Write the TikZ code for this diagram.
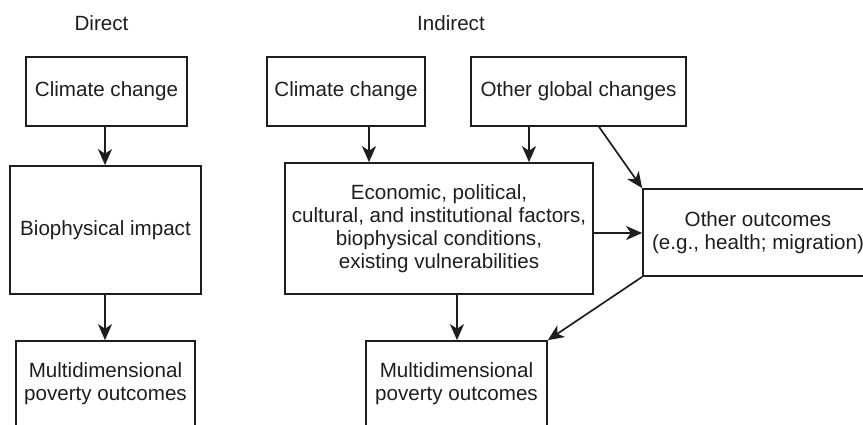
\documentclass[tikz,border=0pt]{standalone}
\usepackage{fontspec}
\setmainfont{Liberation Sans}
\usetikzlibrary{arrows.meta,calc}
\definecolor{ink}{HTML}{1E1E1E}
\begin{document}
\begin{tikzpicture}[x=1pt,y=-1pt,
  txt/.style={font=\fontsize{20.6}{23.2}\selectfont, text=ink},
  box/.style={txt, draw=ink, line width=1.7pt, rectangle, align=center, inner sep=0pt},
  arr/.style={draw=ink, line width=1.7pt, -{Stealth[length=16pt,width=14pt,inset=4.5pt]}}]
\useasboundingbox (0,0) rectangle (863,425);
\clip (0,0) rectangle (863,425);

% column headings
\node[txt] (hdirect) at (101.5,23) {Direct};
\node[txt] (hindirect) at (451,23) {Indirect};

% direct pathway
\node[box, minimum width=161pt, minimum height=69pt] (cc1) at (106.5,91.5) {Climate change};
\node[box, minimum width=191pt, minimum height=128pt] (bio) at (105.5,230) {Biophysical impact};
\node[box, minimum width=179pt, minimum height=86pt] (m1) at (105.5,384) {Multidimensional\\poverty outcomes};

% indirect pathway
\node[box, minimum width=158pt, minimum height=69pt] (cc2) at (346,91.5) {Climate change};
\node[box, minimum width=215pt, minimum height=69pt] (og) at (578.5,91.5) {Other global changes};
\node[box, minimum width=308pt, minimum height=131pt] (eco) at (439,228.5)
  {Economic, political,\\cultural, and institutional factors,\\biophysical conditions,\\existing vulnerabilities};
\node[box, minimum width=230pt, minimum height=87pt] (oo) at (758,232.5)
  {Other outcomes\\(e.g., health; migration)};
\node[box, minimum width=181pt, minimum height=86pt] (m2) at (456.5,384) {Multidimensional\\poverty outcomes};

% connector columns and rows
\coordinate (xd) at (105,0);
\coordinate (xa) at (369,0);
\coordinate (xb) at (529,0);
\coordinate (xc) at (599,0);
\coordinate (xe) at (457,0);
\coordinate (ya) at (0,233);

% direct connectors
\draw[arr] (xd |- cc1.south) -- (xd |- bio.north);
\draw[arr] (xd |- bio.south) -- (xd |- m1.north);

% indirect connectors
\draw[arr] (xa |- cc2.south) -- (xa |- eco.north);
\draw[arr] (xb |- og.south) -- (xb |- eco.north);
\draw[arr] (xc |- og.south) -- (oo.north west);
\draw[arr] (eco.east |- ya) -- (oo.west |- ya);
\draw[arr] (xe |- eco.south) -- (xe |- m2.north);
\draw[arr] (oo.south west) -- (m2.north east);
\end{tikzpicture}
\end{document}
